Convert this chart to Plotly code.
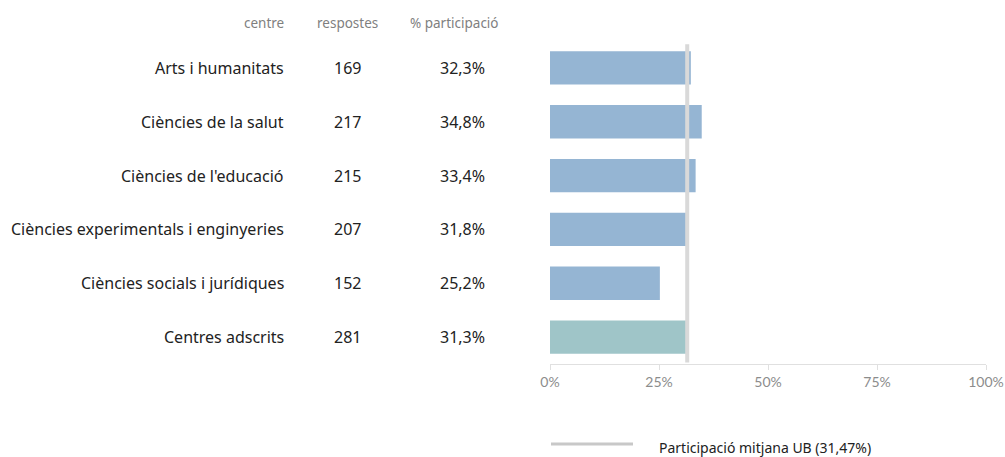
import plotly.graph_objects as go

centres = ["Arts i humanitats", "Ciències de la salut", "Ciències de l'educació",
           "Ciències experimentals i enginyeries", "Ciències socials i jurídiques", "Centres adscrits"]
respostes = [169, 217, 215, 207, 152, 281]
participacio = [32.3, 34.8, 33.4, 31.8, 25.2, 31.3]
mitjana_ub = 31.47
colors = ["#95b5d3"] * 5 + ["#9fc5c8"]
tick_vals = [0, 25, 50, 75, 100]
tick_text = ["0%", "25%", "50%", "75%", "100%"]
legend_label = "Participació mitjana UB (31,47%)"

W, H = 1005, 457
L, R, T, B = 550, 19, 41, 93
pw, ph = W - L - R, H - T - B

def px_x(p):
    return (p - L) / pw

def px_y(p):
    return (H - B - p) / ph

fig = go.Figure()
fig.add_trace(go.Bar(
    y=centres, x=participacio, orientation="h",
    marker=dict(color=colors, line=dict(width=0)),
    width=0.62, showlegend=False, hoverinfo="x+y",
))

fig.add_shape(type="line", xref="x", yref="paper", x0=mitjana_ub, x1=mitjana_ub,
              y0=0.005, y1=0.99, line=dict(color="#d9d9d9", width=4), layer="above")

main_font = dict(family="Noto Sans, Open Sans, sans-serif", size=16, color="#222222")
head_font = dict(family="Noto Sans, Open Sans, sans-serif", size=13.5, color="#7f7f7f")

ann = []
for c, r, p in zip(centres, respostes, participacio):
    ann.append(dict(x=px_x(286), y=c, xref="paper", yref="y", text=c, showarrow=False,
                    xanchor="right", yanchor="middle", font=main_font))
    ann.append(dict(x=px_x(347), y=c, xref="paper", yref="y", text=str(r), showarrow=False,
                    xanchor="center", yanchor="middle", font=main_font))
    ann.append(dict(x=px_x(487), y=c, xref="paper", yref="y",
                    text=f"{p:.1f}%".replace(".", ","), showarrow=False,
                    xanchor="right", yanchor="middle", font=main_font))

hy = px_y(23)
ann.append(dict(x=px_x(286), y=hy, xref="paper", yref="paper", text="centre", showarrow=False,
                xanchor="right", yanchor="middle", font=head_font))
ann.append(dict(x=px_x(347), y=hy, xref="paper", yref="paper", text="respostes", showarrow=False,
                xanchor="center", yanchor="middle", font=head_font))
ann.append(dict(x=px_x(454), y=hy, xref="paper", yref="paper", text="% participació", showarrow=False,
                xanchor="center", yanchor="middle", font=head_font))

# legend
fig.add_shape(type="line", xref="paper", yref="paper", x0=px_x(551), x1=px_x(633),
              y0=px_y(444), y1=px_y(444), line=dict(color="#c8c8c8", width=3))
ann.append(dict(x=px_x(657), y=px_y(447), xref="paper", yref="paper",
                text=legend_label, showarrow=False, xanchor="left", yanchor="middle",
                font=dict(family="Noto Sans, Open Sans, sans-serif", size=14, color="#222222")))

fig.update_layout(
    width=W, height=H,
    margin=dict(l=L, r=R, t=T, b=B),
    plot_bgcolor="white", paper_bgcolor="white",
    annotations=ann,
    xaxis=dict(range=[0, 100], tickmode="array", tickvals=tick_vals, ticktext=tick_text,
               automargin=False,
               showgrid=False, zeroline=False, showline=True, linecolor="#e0e0e0", linewidth=1,
               ticks="outside", ticklen=5, tickcolor="#e0e0e0",
               tickfont=dict(family="Lato, sans-serif", size=14, color="#8c8c8c"), fixedrange=True),
    yaxis=dict(autorange="reversed", showticklabels=False, showgrid=False, zeroline=False,
               showline=False, ticks="", fixedrange=True, automargin=False),
    showlegend=False,
)

fig.write_html("out.html", config={"displayModeBar": False},
               post_script="document.body.style.margin='0';")
